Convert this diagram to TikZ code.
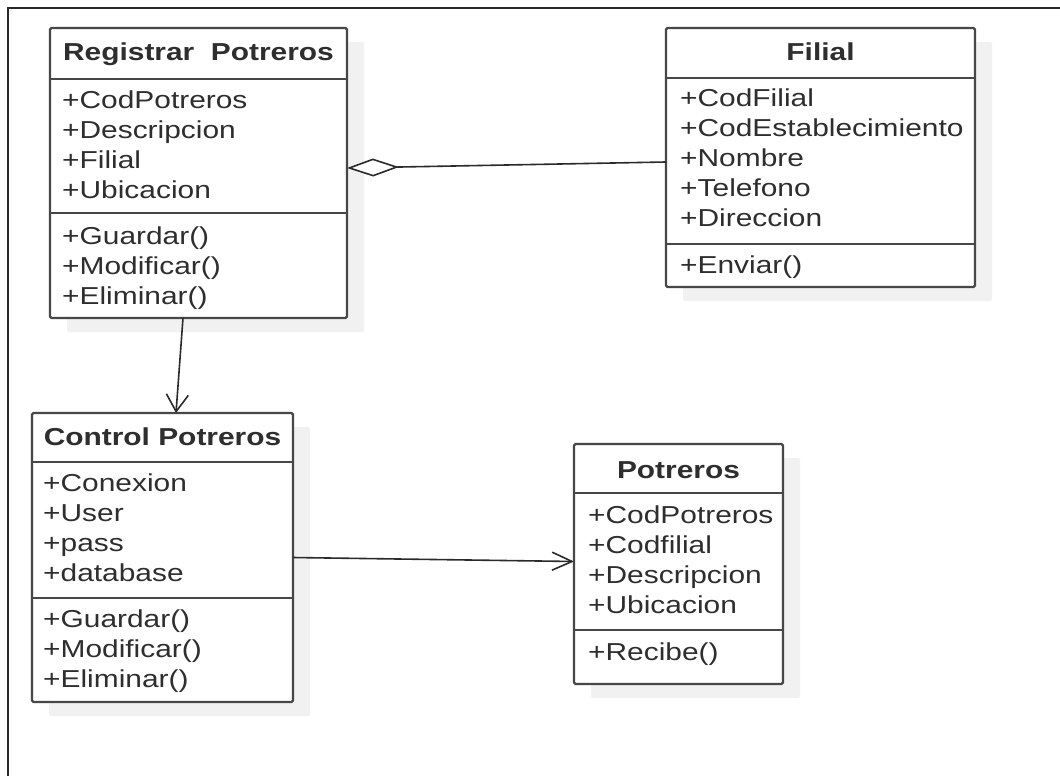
\documentclass[tikz,border=0pt]{standalone}
\usepackage{fontspec}
\setmainfont{Liberation Sans}[FakeStretch=1.22]
\usetikzlibrary{arrows.meta,shadows}
\definecolor{edge}{HTML}{474747}
\definecolor{ink}{HTML}{2E2E2E}
\definecolor{shade}{HTML}{F1F1F1}
\definecolor{wire}{HTML}{2A2A2A}

\begin{document}
\begin{tikzpicture}[x=1pt,y=-1pt,
  classbox/.style={draw=edge, line width=2.2pt, fill=white, rounded corners=1.5pt,
    inner sep=0pt, outer sep=0pt, anchor=north west,
    drop shadow={shadow xshift=17pt, shadow yshift=-14pt, fill=shade, opacity=1, draw=none}},
  sepline/.style={draw=edge, line width=2.2pt},
  classtitle/.style={font=\fontsize{24.5}{30}\selectfont\bfseries, text=ink, inner sep=0pt, anchor=base},
  member/.style={font=\fontsize{24.5}{30}\selectfont, text=ink, inner sep=0pt, anchor=base west},
  connector/.style={draw=wire, line width=1.6pt}]

\useasboundingbox (0,0) rectangle (1060,776);
\fill[white] (0,0) rectangle (1060,776);
% partial frame along the top and left edges
\draw[line width=2pt, draw=wire] (8,776) -- (8,8) -- (1060,8);

% ---- Registrar Potreros ----
\node[classbox, minimum width=297pt, minimum height=290pt] (reg) at (50,28) {};
\node[classtitle] (reg-t) at (198.5,61) {Registrar\ \ Potreros};
\draw[sepline] (reg.west |- 0,79) -- (reg.east |- 0,79);
\foreach \s [count=\i] in {+CodPotreros,+Descripcion,+Filial,+Ubicacion}
  \node[member] (reg-a\i) at (62,78+30*\i) {\s};
\draw[sepline] (reg.west |- 0,213) -- (reg.east |- 0,213);
\foreach \s [count=\i] in {+Guardar(),+Modificar(),+Eliminar()}
  \node[member] (reg-m\i) at (62,214.5+30*\i) {\s};

% ---- Filial ----
\node[classbox, minimum width=309pt, minimum height=259pt] (fil) at (666,28) {};
\node[classtitle] (fil-t) at (820.5,61) {Filial};
\draw[sepline] (fil.west |- 0,78) -- (fil.east |- 0,78);
\foreach \s [count=\i] in {+CodFilial,+CodEstablecimiento,+Nombre,+Telefono,+Direccion}
  \node[member] (fil-a\i) at (680,76.5+30*\i) {\s};
\draw[sepline] (fil.west |- 0,244) -- (fil.east |- 0,244);
\node[member] (fil-m1) at (680,273.5) {+Enviar()};

% ---- Control Potreros ----
\node[classbox, minimum width=261pt, minimum height=289pt] (ctl) at (32,413) {};
\node[classtitle] (ctl-t) at (162.5,445.5) {Control Potreros};
\draw[sepline] (ctl.west |- 0,462) -- (ctl.east |- 0,462);
\foreach \s [count=\i] in {+Conexion,+User,+pass,+database}
  \node[member] (ctl-a\i) at (43,461.5+30*\i) {\s};
\draw[sepline] (ctl.west |- 0,598) -- (ctl.east |- 0,598);
\foreach \s [count=\i] in {+Guardar(),+Modificar(),+Eliminar()}
  \node[member] (ctl-m\i) at (43,597.5+30*\i) {\s};

% ---- Potreros ----
\node[classbox, minimum width=209pt, minimum height=240pt] (pot) at (574,444) {};
\node[classtitle] (pot-t) at (678.5,478.5) {Potreros};
\draw[sepline] (pot.west |- 0,493) -- (pot.east |- 0,493);
\foreach \s [count=\i] in {+CodPotreros,+Codfilial,+Descripcion,+Ubicacion}
  \node[member] (pot-a\i) at (588,493.5+30*\i) {\s};
\draw[sepline] (pot.west |- 0,630) -- (pot.east |- 0,630);
\node[member] (pot-m1) at (588,660.5) {+Recibe()};

% ---- relations ----
\draw[connector, {Diamond[length=52pt,width=18pt,fill=white]}-]
  ([yshift=5pt]reg.east) -- ([yshift=-4.5pt]fil.west);
\draw[connector, -{Straight Barb[length=17pt,width=22pt]}]
  ([xshift=-15.5pt]reg.south) -- ([xshift=13.5pt]ctl.north);
\draw[connector, -{Straight Barb[length=20pt,width=18pt]}]
  (ctl.east) -- ([yshift=2.5pt]pot.west);
\end{tikzpicture}
\end{document}
